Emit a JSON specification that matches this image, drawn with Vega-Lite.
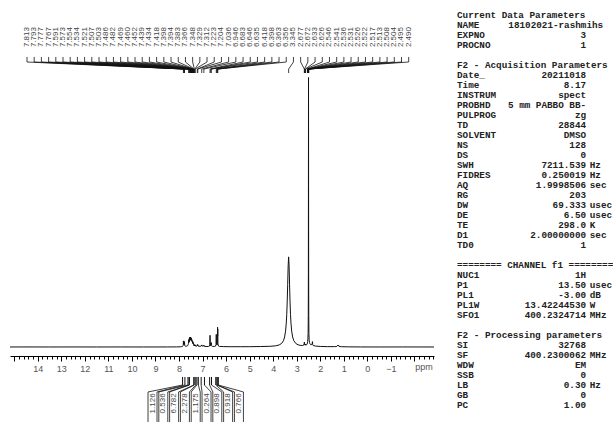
{
"$schema": "https://vega.github.io/schema/vega-lite/v6.json",
"background": "white",
"padding": {"left": 8, "top": 0, "right": 0, "bottom": 0},
"spacing": 21,
"config": {"view": {"stroke": null}},
"datasets": {
"spec": [
{"ppm":15.18,"i":0},{"ppm":14.5,"i":0.05},{"ppm":13.5,"i":0},{"ppm":12.5,"i":0.05},{"ppm":11.5,"i":0},{"ppm":10.5,"i":0.05},{"ppm":9.5,"i":0},{"ppm":8.5,"i":0.05},{"ppm":8.1,"i":0.1},{"ppm":7.95,"i":0.2},{"ppm":7.88,"i":0.4},{"ppm":7.85,"i":0.7},{"ppm":7.83,"i":1.5},{"ppm":7.82,"i":3},{"ppm":7.813,"i":6.5},{"ppm":7.807,"i":3.5},{"ppm":7.8,"i":2.8},{"ppm":7.793,"i":6.8},{"ppm":7.787,"i":3.5},{"ppm":7.782,"i":3},{"ppm":7.777,"i":5.5},{"ppm":7.772,"i":3.5},{"ppm":7.767,"i":5},{"ppm":7.76,"i":2},{"ppm":7.745,"i":1},{"ppm":7.72,"i":0.8},{"ppm":7.68,"i":0.9},{"ppm":7.64,"i":1.3},{"ppm":7.615,"i":2.5},{"ppm":7.6,"i":4},{"ppm":7.591,"i":7.5},{"ppm":7.583,"i":5},{"ppm":7.573,"i":9},{"ppm":7.564,"i":6},{"ppm":7.554,"i":10.5},{"ppm":7.545,"i":7},{"ppm":7.534,"i":11},{"ppm":7.527,"i":8},{"ppm":7.521,"i":10},{"ppm":7.514,"i":8},{"ppm":7.507,"i":11},{"ppm":7.503,"i":10.5},{"ppm":7.495,"i":8},{"ppm":7.486,"i":10},{"ppm":7.482,"i":9.5},{"ppm":7.475,"i":7},{"ppm":7.469,"i":9},{"ppm":7.464,"i":7.5},{"ppm":7.46,"i":8},{"ppm":7.452,"i":8},{"ppm":7.446,"i":6},{"ppm":7.439,"i":7},{"ppm":7.434,"i":6.5},{"ppm":7.426,"i":4.5},{"ppm":7.418,"i":6},{"ppm":7.408,"i":3.5},{"ppm":7.398,"i":5},{"ppm":7.394,"i":4.5},{"ppm":7.388,"i":3.5},{"ppm":7.383,"i":4},{"ppm":7.375,"i":2},{"ppm":7.366,"i":2.3},{"ppm":7.357,"i":1.2},{"ppm":7.348,"i":2.5},{"ppm":7.338,"i":1.2},{"ppm":7.329,"i":2.5},{"ppm":7.32,"i":1.2},{"ppm":7.312,"i":2},{"ppm":7.3,"i":1},{"ppm":7.26,"i":0.9},{"ppm":7.235,"i":1.2},{"ppm":7.223,"i":2.6},{"ppm":7.214,"i":1.3},{"ppm":7.204,"i":2.6},{"ppm":7.192,"i":1.1},{"ppm":7.15,"i":0.8},{"ppm":7.1,"i":0.8},{"ppm":7.06,"i":1},{"ppm":7.036,"i":2.3},{"ppm":7.02,"i":1.1},{"ppm":6.98,"i":0.9},{"ppm":6.96,"i":1.1},{"ppm":6.946,"i":2.1},{"ppm":6.93,"i":0.8},{"ppm":6.85,"i":0.5},{"ppm":6.75,"i":0.6},{"ppm":6.71,"i":1},{"ppm":6.693,"i":3},{"ppm":6.683,"i":13},{"ppm":6.673,"i":3},{"ppm":6.66,"i":1.3},{"ppm":6.652,"i":2.2},{"ppm":6.646,"i":4.2},{"ppm":6.64,"i":2.6},{"ppm":6.635,"i":5},{"ppm":6.627,"i":1.6},{"ppm":6.58,"i":0.7},{"ppm":6.5,"i":0.6},{"ppm":6.45,"i":0.9},{"ppm":6.43,"i":2.5},{"ppm":6.418,"i":14},{"ppm":6.408,"i":3},{"ppm":6.398,"i":6},{"ppm":6.388,"i":2.2},{"ppm":6.372,"i":4},{"ppm":6.363,"i":22},{"ppm":6.36,"i":12},{"ppm":6.356,"i":20},{"ppm":6.348,"i":4},{"ppm":6.33,"i":1.2},{"ppm":6.28,"i":0.6},{"ppm":6.1,"i":0.4},{"ppm":5.8,"i":0.3},{"ppm":5.4,"i":0.3},{"ppm":5.0,"i":0.35},{"ppm":4.545,"i":0.5},{"ppm":4.145,"i":0.75},{"ppm":3.895,"i":1.3},{"ppm":3.745,"i":2.3},{"ppm":3.645,"i":3.9},{"ppm":3.565,"i":6.9},{"ppm":3.515,"i":11.1},{"ppm":3.475,"i":17.6},{"ppm":3.445,"i":26.5},{"ppm":3.425,"i":36},{"ppm":3.405,"i":50},{"ppm":3.385,"i":69},{"ppm":3.365,"i":90},{"ppm":3.345,"i":100},{"ppm":3.325,"i":90},{"ppm":3.305,"i":69},{"ppm":3.285,"i":50},{"ppm":3.265,"i":36},{"ppm":3.245,"i":26.5},{"ppm":3.215,"i":17.6},{"ppm":3.175,"i":11.1},{"ppm":3.125,"i":7},{"ppm":3.045,"i":4},{"ppm":2.945,"i":2.4},{"ppm":2.85,"i":1.8},{"ppm":2.75,"i":1.6},{"ppm":2.7,"i":2.2},{"ppm":2.685,"i":3.5},{"ppm":2.677,"i":5.5},{"ppm":2.674,"i":4.5},{"ppm":2.672,"i":5},{"ppm":2.665,"i":2.5},{"ppm":2.645,"i":2},{"ppm":2.633,"i":3.2},{"ppm":2.629,"i":2.5},{"ppm":2.626,"i":3},{"ppm":2.615,"i":2},{"ppm":2.59,"i":2.3},{"ppm":2.56,"i":3.2},{"ppm":2.546,"i":4.5},{"ppm":2.536,"i":6},{"ppm":2.526,"i":9},{"ppm":2.517,"i":15},{"ppm":2.51,"i":35},{"ppm":2.506,"i":80},{"ppm":2.503,"i":180},{"ppm":2.5,"i":299},{"ppm":2.497,"i":180},{"ppm":2.494,"i":80},{"ppm":2.49,"i":35},{"ppm":2.483,"i":15},{"ppm":2.474,"i":8},{"ppm":2.46,"i":5},{"ppm":2.44,"i":3.5},{"ppm":2.4,"i":2.5},{"ppm":2.36,"i":2.8},{"ppm":2.345,"i":3.5},{"ppm":2.334,"i":6},{"ppm":2.332,"i":5},{"ppm":2.33,"i":5.5},{"ppm":2.322,"i":2.5},{"ppm":2.3,"i":1.6},{"ppm":2.2,"i":1},{"ppm":2.0,"i":0.6},{"ppm":1.7,"i":0.4},{"ppm":1.4,"i":0.4},{"ppm":1.3,"i":0.6},{"ppm":1.245,"i":2.2},{"ppm":1.235,"i":1.6},{"ppm":1.225,"i":2},{"ppm":1.2,"i":0.6},{"ppm":1.1,"i":0.3},{"ppm":0.8,"i":0.15},{"ppm":0.3,"i":0.05},{"ppm":-0.5,"i":0},{"ppm":-1.5,"i":0.05},{"ppm":-2.83,"i":0}
],
"peaks": [
{"ppm":7.813,"lx":14.458},{"ppm":7.793,"lx":14.152},{"ppm":7.777,"lx":13.846},{"ppm":7.767,"lx":13.540},{"ppm":7.591,"lx":13.234},{"ppm":7.573,"lx":12.929},{"ppm":7.554,"lx":12.623},{"ppm":7.534,"lx":12.317},{"ppm":7.521,"lx":12.011},{"ppm":7.507,"lx":11.705},{"ppm":7.503,"lx":11.399},{"ppm":7.486,"lx":11.093},{"ppm":7.482,"lx":10.787},{"ppm":7.469,"lx":10.481},{"ppm":7.460,"lx":10.175},{"ppm":7.452,"lx":9.870},{"ppm":7.439,"lx":9.564},{"ppm":7.434,"lx":9.258},{"ppm":7.418,"lx":8.952},{"ppm":7.398,"lx":8.646},{"ppm":7.394,"lx":8.340},{"ppm":7.383,"lx":8.034},{"ppm":7.366,"lx":7.728},{"ppm":7.348,"lx":7.422},{"ppm":7.329,"lx":7.116},{"ppm":7.312,"lx":6.811},{"ppm":7.223,"lx":6.505},{"ppm":7.204,"lx":6.199},{"ppm":7.036,"lx":5.893},{"ppm":6.946,"lx":5.587},{"ppm":6.683,"lx":5.281},{"ppm":6.646,"lx":4.975},{"ppm":6.635,"lx":4.669},{"ppm":6.418,"lx":4.363},{"ppm":6.398,"lx":4.057},{"ppm":6.363,"lx":3.752},{"ppm":6.356,"lx":3.446},
{"ppm":3.345,"lx":3.140},{"ppm":2.677,"lx":2.834},{"ppm":2.672,"lx":2.528},{"ppm":2.633,"lx":2.222},{"ppm":2.626,"lx":1.916},{"ppm":2.546,"lx":1.610},{"ppm":2.541,"lx":1.304},{"ppm":2.536,"lx":0.998},{"ppm":2.531,"lx":0.693},{"ppm":2.526,"lx":0.387},{"ppm":2.522,"lx":0.081},{"ppm":2.517,"lx":-0.225},{"ppm":2.513,"lx":-0.531},{"ppm":2.508,"lx":-0.837},{"ppm":2.504,"lx":-1.143},{"ppm":2.495,"lx":-1.449},{"ppm":2.490,"lx":-1.755}
],
"integrals": [
{"f":7.85,"t":7.75,"v":1.126,"c":9.126},
{"f":7.62,"t":7.565,"v":0.536,"c":8.668},
{"f":7.565,"t":7.37,"v":6.782,"c":8.209},
{"f":7.36,"t":7.29,"v":2.278,"c":7.750},
{"f":7.24,"t":7.18,"v":1.175,"c":7.291},
{"f":7.06,"t":6.92,"v":0.264,"c":6.832},
{"f":6.70,"t":6.62,"v":0.898,"c":6.374},
{"f":6.44,"t":6.39,"v":0.918,"c":5.915},
{"f":6.38,"t":6.33,"v":0.766,"c":5.456}
],
"params": [
{"r":1,"k":"Current Data Parameters"},
{"r":2,"k":"NAME","v":"18102021-rashmihs"},
{"r":3,"k":"EXPNO","v":"3"},
{"r":4,"k":"PROCNO","v":"1"},
{"r":6,"k":"F2 - Acquisition Parameters"},
{"r":7,"k":"Date_","v":"20211018"},
{"r":8,"k":"Time","v":"8.17"},
{"r":9,"k":"INSTRUM","v":"spect"},
{"r":10,"k":"PROBHD","v":"5 mm PABBO BB-"},
{"r":11,"k":"PULPROG","v":"zg"},
{"r":12,"k":"TD","v":"28844"},
{"r":13,"k":"SOLVENT","v":"DMSO"},
{"r":14,"k":"NS","v":"128"},
{"r":15,"k":"DS","v":"0"},
{"r":16,"k":"SWH","v":"7211.539","u":"Hz"},
{"r":17,"k":"FIDRES","v":"0.250019","u":"Hz"},
{"r":18,"k":"AQ","v":"1.9998506","u":"sec"},
{"r":19,"k":"RG","v":"203"},
{"r":20,"k":"DW","v":"69.333","u":"usec"},
{"r":21,"k":"DE","v":"6.50","u":"usec"},
{"r":22,"k":"TE","v":"298.0","u":"K"},
{"r":23,"k":"D1","v":"2.00000000","u":"sec"},
{"r":24,"k":"TD0","v":"1"},
{"r":26,"k":"======== CHANNEL f1 ========"},
{"r":27,"k":"NUC1","v":"1H"},
{"r":28,"k":"P1","v":"13.50","u":"usec"},
{"r":29,"k":"PL1","v":"-3.00","u":"dB"},
{"r":30,"k":"PL1W","v":"13.42244530","u":"W"},
{"r":31,"k":"SFO1","v":"400.2324714","u":"MHz"},
{"r":33,"k":"F2 - Processing parameters"},
{"r":34,"k":"SI","v":"32768"},
{"r":35,"k":"SF","v":"400.2300062","u":"MHz"},
{"r":36,"k":"WDW","v":"EM"},
{"r":37,"k":"SSB","v":"0"},
{"r":38,"k":"LB","v":"0.30","u":"Hz"},
{"r":39,"k":"GB","v":"0"},
{"r":40,"k":"PC","v":"1.00"}
]
},
"hconcat": [
{
"width": 424, "height": 356,
"layer": [
{"data": {"name": "spec"},
 "mark": {"type": "line", "color": "#111", "strokeWidth": 1, "clip": false},
 "encoding": {
  "x": {"field": "ppm", "type": "quantitative",
   "scale": {"domain": [-2.83, 15.18], "reverse": true, "nice": false, "zero": false},
   "axis": {"title": null, "tickCount": 90, "format": ".0f", "labelOverlap": false,
    "labelExpr": "abs(datum.value - round(datum.value)) < 0.001 && datum.value < 14.5 && datum.value > -1.5 ? datum.label : ''",
    "tickSize": {"condition": {"test": "abs(datum.value - round(datum.value)) < 0.001", "value": 5}, "value": 3},
    "domainColor": "#000", "tickColor": "#000", "labelColor": "#555", "labelFont": "Liberation Sans", "labelFontSize": 9, "labelPadding": 3, "grid": false}},
  "y": {"field": "i", "type": "quantitative", "scale": {"domain": [-10, 385], "nice": false, "zero": false}, "axis": null}
 }},
{"data": {"name": "peaks"},
 "mark": {"type": "text", "angle": 270, "align": "right", "baseline": "middle", "font": "Liberation Sans", "fontSize": 8, "color": "#444"},
 "encoding": {"x": {"field": "lx", "type": "quantitative"}, "y": {"datum": 355}, "text": {"field": "ppm", "type": "quantitative", "format": ".3f"}}},
{"data": {"name": "peaks"},
 "mark": {"type": "rule", "color": "#111", "strokeWidth": 0.8},
 "encoding": {"x": {"field": "lx", "type": "quantitative"}, "y": {"datum": 321.8}, "y2": {"datum": 316.2}}},
{"data": {"name": "peaks"},
 "mark": {"type": "rule", "color": "#111", "strokeWidth": 0.8},
 "encoding": {"x": {"field": "lx", "type": "quantitative"}, "x2": {"field": "ppm"}, "y": {"datum": 316.2}, "y2": {"datum": 308.4}}},
{"data": {"name": "peaks"},
 "mark": {"type": "rule", "color": "#111", "strokeWidth": 0.8},
 "encoding": {"x": {"field": "ppm", "type": "quantitative"}, "y": {"datum": 308.4}, "y2": {"datum": 304}}},
{"data": {"name": "integrals"},
 "mark": {"type": "rule", "color": "#111", "strokeWidth": 1},
 "encoding": {"x": {"field": "f", "type": "quantitative"}, "y": {"datum": -33.3}, "y2": {"datum": -42.2}}},
{"data": {"name": "integrals"},
 "mark": {"type": "rule", "color": "#111", "strokeWidth": 1},
 "encoding": {"x": {"field": "t", "type": "quantitative"}, "y": {"datum": -33.3}, "y2": {"datum": -42.2}}},
{"data": {"name": "integrals"},
 "mark": {"type": "rule", "color": "#111", "strokeWidth": 0.8, "x2Offset": -4.5},
 "encoding": {"x": {"field": "f", "type": "quantitative"}, "x2": {"field": "c"}, "y": {"datum": -42.2}, "y2": {"datum": -49.9}}},
{"data": {"name": "integrals"},
 "mark": {"type": "rule", "color": "#111", "strokeWidth": 0.8, "x2Offset": 4.5},
 "encoding": {"x": {"field": "t", "type": "quantitative"}, "x2": {"field": "c"}, "y": {"datum": -42.2}, "y2": {"datum": -49.9}}},
{"data": {"name": "integrals"},
 "mark": {"type": "rule", "color": "#111", "strokeWidth": 0.8, "xOffset": -4.5},
 "encoding": {"x": {"field": "c", "type": "quantitative"}, "y": {"datum": -49.9}, "y2": {"datum": -84}}},
{"data": {"name": "integrals"},
 "mark": {"type": "rule", "color": "#111", "strokeWidth": 0.8, "xOffset": 4.5},
 "encoding": {"x": {"field": "c", "type": "quantitative"}, "y": {"datum": -49.9}, "y2": {"datum": -84}}},
{"data": {"name": "integrals"},
 "mark": {"type": "text", "angle": 270, "align": "right", "baseline": "middle", "font": "Liberation Sans", "fontSize": 8, "color": "#444"},
 "encoding": {"x": {"field": "c", "type": "quantitative"}, "y": {"datum": -51.5}, "text": {"field": "v", "type": "quantitative", "format": ".3f"}}},
{"data": {"values": [{"t": "ppm"}]},
 "mark": {"type": "text", "align": "center", "baseline": "middle", "font": "Liberation Sans", "fontSize": 9, "color": "#555"},
 "encoding": {"x": {"datum": -2.4, "type": "quantitative"}, "y": {"datum": -22.2}, "text": {"field": "t"}}}
]
},
{
"width": 160, "height": 422,
"data": {"name": "params"},
"encoding": {"y": {"field": "r", "type": "quantitative", "scale": {"domain": [-0.5, 41.7], "reverse": true, "nice": false, "zero": false}, "axis": null}},
"layer": [
{"mark": {"type": "text", "align": "left", "baseline": "middle", "font": "Liberation Mono", "fontSize": 9.3, "fontWeight": "bold", "color": "#222"},
 "encoding": {"x": {"datum": 0, "type": "quantitative", "scale": {"domain": [0, 28.57], "nice": false, "zero": false}, "axis": null}, "text": {"field": "k"}}},
{"transform": [{"filter": "isValid(datum.v) && datum.k != 'NAME'"}],
 "mark": {"type": "text", "align": "right", "baseline": "middle", "font": "Liberation Mono", "fontSize": 9.3, "fontWeight": "bold", "color": "#222"},
 "encoding": {"x": {"datum": 23.05, "type": "quantitative"}, "text": {"field": "v"}}},
{"transform": [{"filter": "datum.k == 'NAME'"}],
 "mark": {"type": "text", "align": "right", "baseline": "middle", "font": "Liberation Mono", "fontSize": 9.3, "fontWeight": "bold", "color": "#222"},
 "encoding": {"x": {"datum": 26.1, "type": "quantitative"}, "text": {"field": "v"}}},
{"transform": [{"filter": "isValid(datum.u)"}],
 "mark": {"type": "text", "align": "left", "baseline": "middle", "font": "Liberation Mono", "fontSize": 9.3, "fontWeight": "bold", "color": "#222"},
 "encoding": {"x": {"datum": 23.7, "type": "quantitative"}, "text": {"field": "u"}}}
]
}
]
}
